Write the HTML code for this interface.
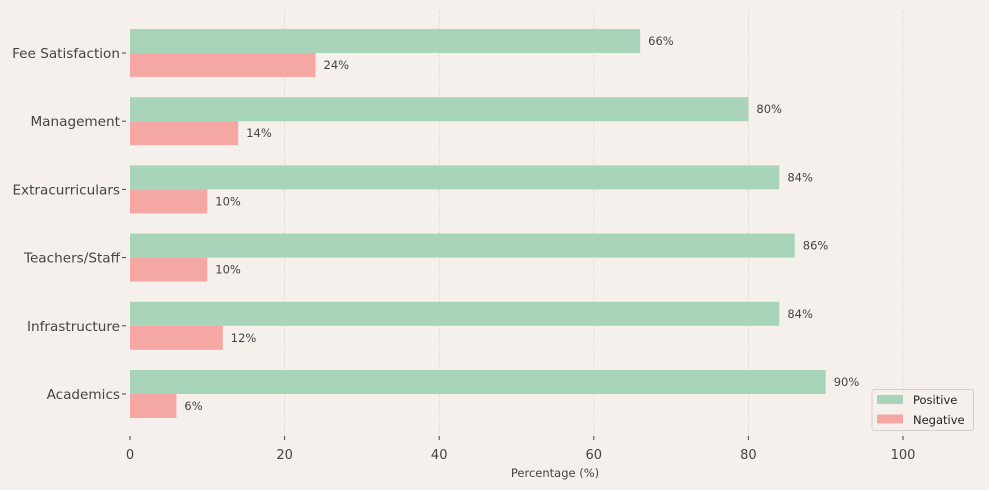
<!DOCTYPE html>
<html><head><meta charset="utf-8"><style>
body{margin:0;background:#f5f0ec;}
svg{display:block;font-family:"DejaVu Sans","Liberation Sans",sans-serif;}
</style></head><body>
<svg id="chart" width="989" height="490">
<rect width="989" height="490" fill="#f5f0ec"/>
<g id="grid"></g><g id="bars"></g><g id="axes"></g>
<g>
<rect x="872" y="389.5" width="101.5" height="41" rx="2" fill="#f5f0ec" stroke="#d5d0cc"/>
<rect x="877" y="395" width="26" height="9" fill="#a8d5ba"/>
<text x="913" y="404" font-size="11.5" fill="#222">Positive</text>
<rect x="877" y="414.5" width="26" height="9" fill="#f4a7a3"/>
<text x="913" y="424" font-size="11.5" fill="#222">Negative</text>
</g>
<text x="555" y="477" font-size="11.5" fill="#444" text-anchor="middle">Percentage (%)</text>
</svg>
<script>
const categories=["Fee Satisfaction","Management","Extracurriculars","Teachers/Staff","Infrastructure","Academics"];
const positive=[66,80,84,86,84,90];
const negative=[24,14,10,10,12,6];
const ticks=[0,20,40,60,80,100];
const NS="http://www.w3.org/2000/svg";
const x0=130,pxPer=7.73,yTop=53,step=68.2,bh=24;
const X=v=>x0+v*pxPer, Y=i=>yTop+i*step;
function mk(t,a,p){const e=document.createElementNS(NS,t);for(const k in a)e.setAttribute(k,a[k]);p.appendChild(e);return e;}
const grid=document.getElementById('grid'),bars=document.getElementById('bars'),axes=document.getElementById('axes');
ticks.forEach(t=>{
 if(t>0){const l=mk('line',{x1:X(t),x2:X(t),y1:10,y2:435,stroke:'#cfcac5','stroke-dasharray':'1.5,1.5','stroke-width':0.7},grid);
 
 }
 const tk=mk('line',{x1:X(t),x2:X(t),y1:436,y2:440,stroke:'#444'},axes);
 
 
 const tx=mk('text',{x:X(t),y:459,'font-size':13,fill:'#444','text-anchor':'middle'},axes);tx.textContent=t;
 
 
});
categories.forEach((c,i)=>{
 const y=Y(i);
 const p=mk('rect',{x:x0,y:y-bh,width:X(positive[i])-x0,height:bh,fill:'#a8d5ba'},bars);
 
 
 const n=mk('rect',{x:x0,y:y,width:X(negative[i])-x0,height:bh,fill:'#f4a7a3'},bars);
 
 
 const pl=mk('text',{x:X(positive[i])+8,y:y-8,'font-size':11.5,fill:'#444'},bars);pl.textContent=positive[i]+'%';
 
 
 const nl=mk('text',{x:X(negative[i])+8,y:y+16,'font-size':11.5,fill:'#444'},bars);nl.textContent=negative[i]+'%';
 
 
 const tk=mk('line',{x1:122,x2:126,y1:y,y2:y,stroke:'#444'},axes);
 
 
 const yl=mk('text',{x:120,y:y+5,'font-size':13.6,fill:'#444','text-anchor':'end'},axes);yl.textContent=c;
 
 
});
</script>
</body></html>
